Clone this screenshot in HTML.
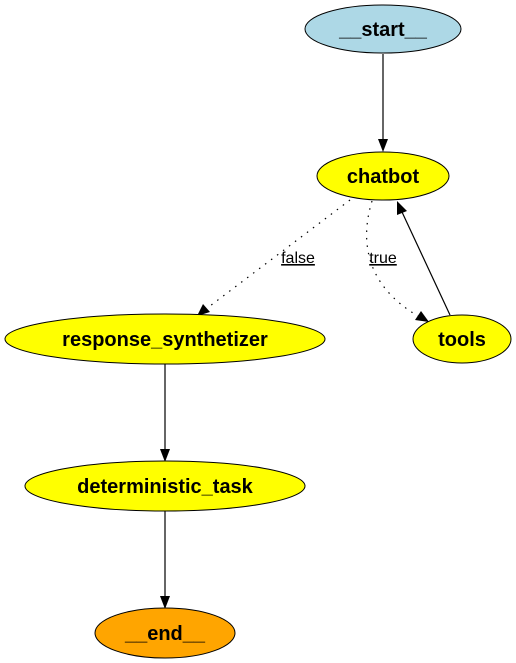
<!DOCTYPE html>
<html><head><meta charset="utf-8"><style>
html,body{margin:0;padding:0;background:#fff;width:516px;height:663px;overflow:hidden}
text{font-family:"Liberation Sans",Arial,sans-serif}
.n{font-weight:bold;font-size:20px;text-anchor:middle}
.l{font-size:16px;text-anchor:middle;text-decoration:underline}
</style></head><body>
<svg width="516" height="663" viewBox="0 0 516 663" xmlns="http://www.w3.org/2000/svg">
<g stroke="#000" stroke-width="1.2" fill="none">
<line x1="383" y1="54" x2="383" y2="140"/>
<path d="M350 200 L206 309" stroke-dasharray="1.5,6"/>
<path d="M372 201 C360 240 365 285 418 316" stroke-dasharray="1.5,6"/>
<line x1="450" y1="315" x2="402" y2="212"/>
<line x1="165" y1="364" x2="165" y2="450"/>
<line x1="165" y1="511" x2="165" y2="597"/>
</g>
<g fill="#000">
<polygon points="383,152 378,139 388,139"/>
<polygon points="197,316 203,304 210,312"/>
<polygon points="429,322 415,320 421,311"/>
<polygon points="397,201 397,215 407,211"/>
<polygon points="165,462 160,449 170,449"/>
<polygon points="165,609 160,596 170,596"/>
</g>
<g stroke="#000" stroke-width="1">
<ellipse cx="383" cy="29" rx="78" ry="24" fill="#add8e6"/>
<ellipse cx="383" cy="176" rx="66" ry="24" fill="#ffff00"/>
<ellipse cx="165" cy="339" rx="160" ry="25" fill="#ffff00"/>
<ellipse cx="462" cy="339" rx="49" ry="24" fill="#ffff00"/>
<ellipse cx="165" cy="486" rx="140" ry="25" fill="#ffff00"/>
<ellipse cx="165" cy="633" rx="70" ry="25" fill="#ffa500"/>
</g>
<text class="n" x="383" y="36">__start__</text>
<text class="n" x="383" y="183">chatbot</text>
<text class="n" x="165" y="346">response_synthetizer</text>
<text class="n" x="462" y="346">tools</text>
<text class="n" x="165" y="493">deterministic_task</text>
<text class="n" x="165" y="640">__end__</text>
<text class="l" x="298" y="263">false</text>
<text class="l" x="383" y="263">true</text>
</svg>
</body></html>
